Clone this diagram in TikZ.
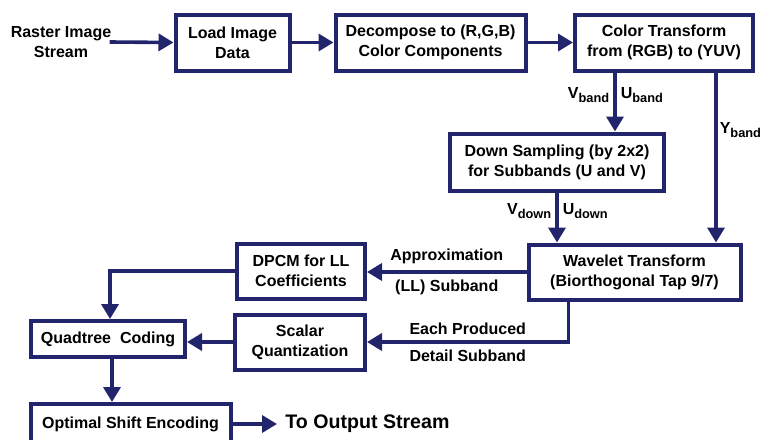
\documentclass[tikz,border=0pt]{standalone}
\usepackage{fontspec}
\setmainfont{Liberation Sans}
\usepackage{tikz}
\usetikzlibrary{positioning,calc,arrows.meta}
\definecolor{navy}{HTML}{22256B}
\newcommand{\bandsub}[1]{\raisebox{-2pt}{\fontsize{6.4}{8}\selectfont #1}}

\begin{document}
\begin{tikzpicture}[x=0.5pt, y=-0.5pt,
  block/.style={rectangle, draw=navy, line width=2pt, fill=white, align=center, inner sep=1pt, font=\bfseries\fontsize{8}{10}\selectfont},
  arrow/.style={-{Triangle[length=7.5pt,width=8.5pt]}, line width=1.8pt, color=navy},
  lbl/.style={font=\bfseries\fontsize{8}{10}\selectfont, text=black, inner sep=2pt}
]
\useasboundingbox (0,0) rectangle (762,440);
\node[lbl, align=center] (raster) at (61,42) {Raster Image\\Stream};
\node[block, minimum width=57pt, minimum height=28pt] (load) at (232.5,42.5) {Load Image\\Data};
\node[block, minimum width=95pt, minimum height=28pt] (decomp) at (430.5,42.5) {Decompose to (R,G,B)\\Color Components};
\node[block, minimum width=89pt, minimum height=28pt] (color) at (664,42.5) {Color Transform\\from (RGB) to (YUV)};
\node[block, minimum width=107pt, minimum height=28.5pt] (down) at (557,162) {Down Sampling (by 2x2)\\for Subbands (U and V)};
\node[block, minimum width=106pt, minimum height=27.5pt] (wave) at (634.5,272) {Wavelet Transform\\(Biorthogonal Tap 9/7)};
\node[block, minimum width=64pt, minimum height=27.5pt] (dpcm) at (301,271) {DPCM for LL\\Coefficients};
\node[block, minimum width=65pt, minimum height=27.5pt] (scalar) at (300,342) {Scalar\\Quantization};
\node[block, minimum width=77pt, minimum height=18pt] (quad) at (108,339) {Quadtree~ Coding};
\node[block, minimum width=100pt, minimum height=20pt] (opt) at (130.5,424) {Optimal Shift Encoding};
\node[lbl, font=\bfseries\fontsize{9.8}{12}\selectfont, anchor=west] (out) at (281,424) {To Output Stream};

% top row
\draw[arrow] ([xshift=-3pt]raster.east) -- (load.west);
\draw[arrow] (load) -- (decomp);
\draw[arrow] (decomp) -- (color);
% chroma and luma bands
\draw[arrow] ([xshift=29pt]down.north |- color.south) -- ([xshift=29pt]down.north)
  node[lbl, pos=.38, left] {V\bandsub{band}} node[lbl, pos=.38, right] {U\bandsub{band}};
\draw[arrow] ([xshift=26pt]color.south) -- ([xshift=26pt]color.south |- wave.north)
  node[lbl, pos=.34, right, inner sep=1pt] {Y\bandsub{band}};
\draw[arrow] (down.south) -- (down.south |- wave.north)
  node[lbl, pos=.38, left] {V\bandsub{down}} node[lbl, pos=.38, right] {U\bandsub{down}};
% subbands
\draw[arrow] (wave.west) -- (wave.west -| dpcm.east)
  node[lbl, midway, above=1pt] {Approximation} node[lbl, midway, below=1pt] {(LL) Subband};
\draw[arrow] ([xshift=-33pt]wave.south) |- (scalar.east)
  node[lbl, pos=.75, above=1pt] {Each Produced} node[lbl, pos=.75, below=1pt] {Detail Subband};
% coding
\draw[arrow] (dpcm.west) -| ([xshift=1pt]quad.north);
\draw[arrow] (scalar.west) -- (scalar.west -| quad.east);
\draw[arrow] ([xshift=2pt]quad.south) -- ([xshift=2pt]quad.south |- opt.north);
\draw[arrow] (opt.east) -- ([xshift=-2pt]out.west);
\end{tikzpicture}
\end{document}
